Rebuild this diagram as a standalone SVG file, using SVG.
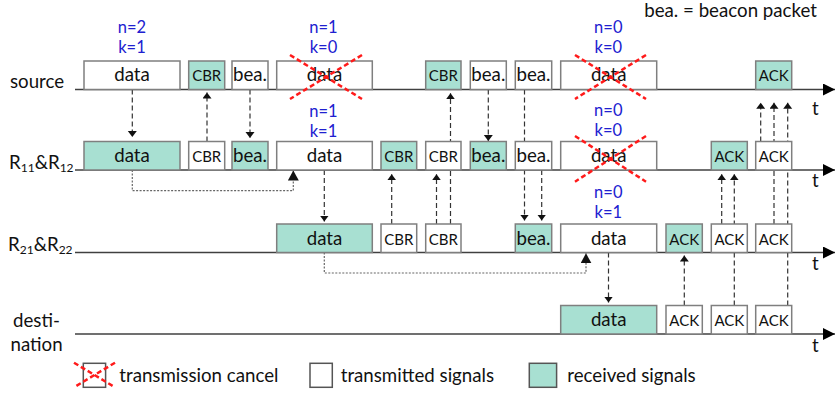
<svg xmlns="http://www.w3.org/2000/svg" width="835" height="396" viewBox="0 0 835 396">
<defs>
<marker id="ah" markerUnits="userSpaceOnUse" markerWidth="7" markerHeight="10" refX="6" refY="4.5" orient="auto"><path d="M0,0 L6,4.5 L0,9 z" fill="#111"/></marker>
<marker id="ahd" markerUnits="userSpaceOnUse" markerWidth="11" markerHeight="12" refX="10" refY="5.5" orient="auto"><path d="M0,0 L10,5.5 L0,11 z" fill="#111"/></marker>
<marker id="ta" markerUnits="userSpaceOnUse" markerWidth="13" markerHeight="13" refX="12" refY="6" orient="auto"><path d="M0,0 L12,6 L0,12 z" fill="#000"/></marker>
</defs>
<style>
.tl{stroke:#404040;stroke-width:1.5;fill:none}
.bx{stroke:#7f7f7f;stroke-width:1.5}
.w{fill:#fff}
.g{fill:#a8e0d2}
.dash{stroke:#333;stroke-width:1.2;stroke-dasharray:5 3;fill:none}
.dot{stroke:#666;stroke-width:1.2;stroke-dasharray:2 1.5;fill:none}
.x{stroke:#ff1a1a;stroke-width:2.5;stroke-dasharray:5 3}
text{font-family:Lato,"Liberation Sans",sans-serif;fill:#111}
.lb{font-size:18.7px}
.sm{font-size:15px}
.bl{font-size:16.5px;fill:#2020d0;text-anchor:middle}
.c{text-anchor:middle}
.sub{font-size:12px}
</style>

<g id="timelines">
<path class="tl" d="M75,89.5 H835" marker-end="url(#ta)"/>
<path class="tl" d="M75,170 H835" marker-end="url(#ta)"/>
<path class="tl" d="M75,252.5 H835" marker-end="url(#ta)"/>
<path class="tl" d="M75,334 H835" marker-end="url(#ta)"/>
<text class="lb" x="812" y="115">t</text>
<text class="lb" x="812" y="186.5">t</text>
<text class="lb" x="812" y="270">t</text>
<text class="lb" x="812" y="351.5">t</text>
</g>

<g id="connectors">
<path class="dash" d="M132.3,89.5 V137" marker-end="url(#ah)"/>
<path class="dash" d="M207,141.5 V92.5" marker-end="url(#ah)"/>
<path class="dash" d="M250,89.5 V138" marker-end="url(#ah)"/>
<path class="dash" d="M324.3,170 V221.5" marker-end="url(#ah)"/>
<path class="dash" d="M391.7,224 V174.3" marker-end="url(#ah)"/>
<path class="dash" d="M436.5,224 V174.3" marker-end="url(#ah)"/>
<path class="dash" d="M450.5,224 V93.3" marker-end="url(#ah)"/>
<path class="dash" d="M488.3,89.5 V141" marker-end="url(#ah)"/>
<path class="dash" d="M524.5,89.5 V220.5" marker-end="url(#ah)"/>
<path class="dash" d="M541.7,170 V220.5" marker-end="url(#ah)"/>
<path class="dash" d="M608.5,252.5 V302.5" marker-end="url(#ah)"/>
<path class="dash" d="M684.3,305.5 V255.5" marker-end="url(#ah)"/>
<path class="dash" d="M721.7,224 V174.3" marker-end="url(#ah)"/>
<path class="dash" d="M734.3,305.5 V174.3" marker-end="url(#ah)"/>
<path class="dash" d="M760.7,141.5 V102.7" marker-end="url(#ah)"/>
<path class="dash" d="M774,224 V102.7" marker-end="url(#ah)"/>
<path class="dash" d="M787.7,305.5 V102.7" marker-end="url(#ah)"/>
<path class="dot" d="M132.3,170 V190.7 H293.3 V170.5" marker-end="url(#ahd)"/>
<path class="dot" d="M324.3,252.5 V273 H586 V253.3" marker-end="url(#ahd)"/>
</g>

<g id="source">
<text class="lb" x="10" y="88">source</text>
<g id="s-data1"><rect class="bx w" x="84" y="61" width="96" height="28.5"/><text class="lb c" x="132" y="81">data</text></g>
<g id="s-cbr1"><rect class="bx g" x="188.7" y="61" width="36" height="28.5"/><text class="sm c" x="206.7" y="81">CBR</text></g>
<g id="s-bea1"><rect class="bx w" x="232" y="61" width="36" height="28.5"/><text class="lb c" x="250" y="81">bea.</text></g>
<g id="s-data2"><rect class="bx w" x="276.7" y="61" width="95.6" height="28.5"/><text class="lb c" x="324.5" y="81">data</text></g>
<g id="s-cbr2"><rect class="bx g" x="425.7" y="61" width="35.3" height="28.5"/><text class="sm c" x="443.3" y="81">CBR</text></g>
<g id="s-bea2"><rect class="bx w" x="470.3" y="61" width="36" height="28.5"/><text class="lb c" x="488.3" y="81">bea.</text></g>
<g id="s-bea3"><rect class="bx w" x="515.3" y="61" width="36.4" height="28.5"/><text class="lb c" x="533.5" y="81">bea.</text></g>
<g id="s-data3"><rect class="bx w" x="560.7" y="61" width="96" height="28.5"/><text class="lb c" x="608.7" y="81">data</text></g>
<g id="s-ack"><rect class="bx g" x="755.7" y="61" width="36" height="28.5"/><text class="sm c" x="773.7" y="81">ACK</text></g>
</g>

<g id="r1">
<text class="lb" x="9" y="168.5">R<tspan class="sub" dy="3">11</tspan><tspan dy="-3">&amp;R</tspan><tspan class="sub" dy="3">12</tspan></text>
<g id="r1-data1"><rect class="bx g" x="84" y="141.5" width="96" height="28.5"/><text class="lb c" x="132" y="162">data</text></g>
<g id="r1-cbr1"><rect class="bx w" x="188.7" y="141.5" width="36" height="28.5"/><text class="sm c" x="206.7" y="162">CBR</text></g>
<g id="r1-bea1"><rect class="bx g" x="232" y="141.5" width="36" height="28.5"/><text class="lb c" x="250" y="162">bea.</text></g>
<g id="r1-data2"><rect class="bx w" x="276.7" y="141.5" width="95.6" height="28.5"/><text class="lb c" x="324.5" y="162">data</text></g>
<g id="r1-cbr2"><rect class="bx g" x="381" y="141.5" width="35.7" height="28.5"/><text class="sm c" x="398.8" y="162">CBR</text></g>
<g id="r1-cbr3"><rect class="bx w" x="425.7" y="141.5" width="35.3" height="28.5"/><text class="sm c" x="443.3" y="162">CBR</text></g>
<g id="r1-bea2"><rect class="bx g" x="470.3" y="141.5" width="36" height="28.5"/><text class="lb c" x="488.3" y="162">bea.</text></g>
<g id="r1-bea3"><rect class="bx w" x="515.3" y="141.5" width="36.4" height="28.5"/><text class="lb c" x="533.5" y="162">bea.</text></g>
<g id="r1-data3"><rect class="bx w" x="560.7" y="141.5" width="96" height="28.5"/><text class="lb c" x="608.7" y="162">data</text></g>
<g id="r1-ack1"><rect class="bx g" x="711.3" y="141.5" width="36" height="28.5"/><text class="sm c" x="729.3" y="162">ACK</text></g>
<g id="r1-ack2"><rect class="bx w" x="755.7" y="141.5" width="36" height="28.5"/><text class="sm c" x="773.7" y="162">ACK</text></g>
</g>

<g id="r2">
<text class="lb" x="8" y="251">R<tspan class="sub" dy="3">21</tspan><tspan dy="-3">&amp;R</tspan><tspan class="sub" dy="3">22</tspan></text>
<g id="r2-data1"><rect class="bx g" x="276.7" y="224" width="95.6" height="28.5"/><text class="lb c" x="324.5" y="244.5">data</text></g>
<g id="r2-cbr1"><rect class="bx w" x="381" y="224" width="35.7" height="28.5"/><text class="sm c" x="398.8" y="244.5">CBR</text></g>
<g id="r2-cbr2"><rect class="bx w" x="425.7" y="224" width="35.3" height="28.5"/><text class="sm c" x="443.3" y="244.5">CBR</text></g>
<g id="r2-bea"><rect class="bx g" x="515.3" y="224" width="36.4" height="28.5"/><text class="lb c" x="533.5" y="244.5">bea.</text></g>
<g id="r2-data2"><rect class="bx w" x="560.7" y="224" width="96" height="28.5"/><text class="lb c" x="608.7" y="244.5">data</text></g>
<g id="r2-ack1"><rect class="bx g" x="666" y="224" width="36.3" height="28.5"/><text class="sm c" x="684.2" y="244.5">ACK</text></g>
<g id="r2-ack2"><rect class="bx w" x="711.3" y="224" width="36" height="28.5"/><text class="sm c" x="729.3" y="244.5">ACK</text></g>
<g id="r2-ack3"><rect class="bx w" x="755.7" y="224" width="36" height="28.5"/><text class="sm c" x="773.7" y="244.5">ACK</text></g>
</g>

<g id="dest">
<text class="lb" x="13" y="327">desti-<tspan x="10.5" y="350.5">nation</tspan></text>
<g id="d-data"><rect class="bx g" x="560.7" y="305.5" width="96" height="28.5"/><text class="lb c" x="608.7" y="326">data</text></g>
<g id="d-ack1"><rect class="bx w" x="666" y="305.5" width="36.3" height="28.5"/><text class="sm c" x="684.2" y="326">ACK</text></g>
<g id="d-ack2"><rect class="bx w" x="711.3" y="305.5" width="36" height="28.5"/><text class="sm c" x="729.3" y="326">ACK</text></g>
<g id="d-ack3"><rect class="bx w" x="755.7" y="305.5" width="36" height="28.5"/><text class="sm c" x="773.7" y="326">ACK</text></g>
</g>

<g id="cancels">
<path class="x" d="M290,55 L362,99 M362,55 L290,99"/>
<path class="x" d="M575,55 L646,99 M646,55 L575,99"/>
<path class="x" d="M575,136 L646,181.7 M646,136 L575,181.7"/>
</g>

<g id="nk">
<text class="bl" x="132" y="33">n=2<tspan x="132" y="53">k=1</tspan></text>
<text class="bl" x="323.5" y="33">n=1<tspan x="323.5" y="53">k=0</tspan></text>
<text class="bl" x="323.5" y="116.5">n=1<tspan x="323.5" y="136.5">k=1</tspan></text>
<text class="bl" x="608.3" y="33">n=0<tspan x="608.3" y="53">k=0</tspan></text>
<text class="bl" x="608.3" y="115.5">n=0<tspan x="608.3" y="135.5">k=0</tspan></text>
<text class="bl" x="608.3" y="198">n=0<tspan x="608.3" y="218">k=1</tspan></text>
</g>

<text class="lb" x="817" y="16.5" text-anchor="end">bea. = beacon packet</text>

<g id="legend">
<rect x="83.3" y="363.3" width="22.3" height="24" fill="#fff" stroke="#555" stroke-width="1.5"/>
<path class="x" d="M74,362.7 L115,387.3 M115,362.7 L74,387.3"/>
<text class="lb" x="119.3" y="381.7">transmission cancel</text>
<rect x="310" y="363.3" width="22.3" height="24" fill="#fff" stroke="#555" stroke-width="1.5"/>
<text class="lb" x="340.7" y="381.7">transmitted signals</text>
<rect x="529.3" y="363.3" width="27.3" height="24" fill="#a8e0d2" stroke="#555" stroke-width="1.5"/>
<text class="lb" x="567.3" y="381.7">received signals</text>
</g>
</svg>
